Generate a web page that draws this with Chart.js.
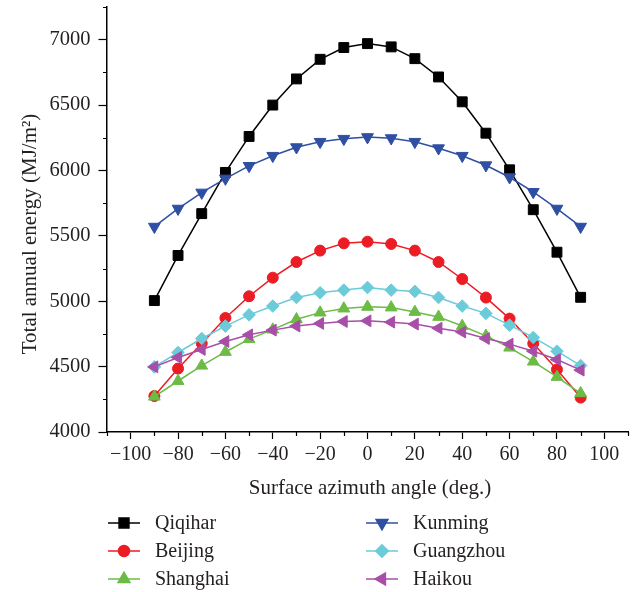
<!DOCTYPE html>
<html lang="en">
<head>
  <meta charset="UTF-8">
  <title>Total annual energy vs surface azimuth angle</title>
  <script src="https://cdn.jsdelivr.net/npm/chart.js"></script>
  <style>
    body {
      margin: 0;
      background: #ffffff;
    }
    #wrap {
      width: 637px;
      height: 592px;
    }
  </style>
</head>
<body>
  <div id="wrap"><canvas id="energyChart" width="637" height="592"></canvas></div>

  <script>
    // azimuth angle (deg.) for every series
    const azimuth = [-90, -80, -70, -60, -50, -40, -30, -20, -10, 0, 10, 20, 30, 40, 50, 60, 70, 80, 90];

    // total annual energy, MJ/m2
    const qiqihar   = [5005, 5350, 5670, 5985, 6260, 6500, 6700, 6850, 6940, 6970, 6945, 6855, 6715, 6525, 6285, 6005, 5700, 5375, 5030];
    const beijing   = [4275, 4485, 4677, 4872, 5038, 5180, 5300, 5387, 5443, 5455, 5438, 5387, 5300, 5170, 5028, 4867, 4677, 4478, 4263];
    const shanghai  = [4270, 4390, 4507, 4612, 4710, 4783, 4862, 4913, 4944, 4957, 4952, 4918, 4880, 4811, 4735, 4645, 4538, 4421, 4296];
    const kunming   = [5570, 5708, 5831, 5938, 6035, 6112, 6178, 6219, 6242, 6255, 6247, 6219, 6170, 6112, 6040, 5948, 5836, 5708, 5570];
    const guangzhou = [4498, 4608, 4715, 4810, 4896, 4963, 5029, 5065, 5085, 5105, 5085, 5075, 5029, 4963, 4907, 4817, 4723, 4618, 4508];
    const haikou    = [4498, 4570, 4631, 4692, 4743, 4779, 4810, 4830, 4845, 4850, 4840, 4825, 4794, 4764, 4715, 4672, 4618, 4554, 4473];

    const xTitle = "Surface azimuth angle (deg.)";
    const yTitle = "Total annual energy (MJ/m\u00B2)";

    const FONT = '"Liberation Serif", "Times New Roman", serif';
    const TEXT = "#231f20";

    const series = (label, data, color, style, radius, rotation, order) => ({
      label,
      data: azimuth.map((a, i) => ({ x: a, y: data[i] })),
      borderColor: color,
      backgroundColor: color,
      borderWidth: 1.5,
      pointStyle: style,
      pointRadius: radius,
      pointRotation: rotation,
      pointBorderWidth: 1,
      pointBorderColor: color,
      pointBackgroundColor: color,
      tension: 0,
      order
    });

    const datasets = [
      series("Qiqihar",   qiqihar,   "#000000", "rect",     7,   0,   5),
      series("Beijing",   beijing,   "#ec1c24", "circle",   5.5, 0,   3),
      series("Shanghai",  shanghai,  "#6cbb45", "triangle", 6.8, 0,   1),
      series("Kunming",   kunming,   "#2f4fa2", "triangle", 6.8, 180, 4),
      series("Guangzhou", guangzhou, "#6ccbd9", "rectRot",  6.3, 0,   2),
      series("Haikou",    haikou,    "#a84ea8", "triangle", 6.8, 270, 0)
    ];

    const minus = v => (v < 0 ? "\u2212" + Math.abs(v) : String(v));

    // short minor ticks, axis titles and the two-column legend
    const decorations = {
      id: "decorations",
      afterDraw(chart) {
        const { ctx, scales: { x, y } } = chart;
        ctx.save();
        ctx.strokeStyle = "#000";
        ctx.lineWidth = 1.2;
        ctx.beginPath();
        x.ticks.forEach(t => {
          if (t.value % 20 !== 0) {
            const px = Math.round(x.getPixelForValue(t.value)) + 0.5;
            ctx.moveTo(px, x.top);
            ctx.lineTo(px, x.top + 4);
          }
        });
        y.ticks.forEach(t => {
          if (t.value % 500 !== 0) {
            const py = Math.round(y.getPixelForValue(t.value)) + 0.5;
            ctx.moveTo(y.right - 4, py);
            ctx.lineTo(y.right, py);
          }
        });
        ctx.stroke();

        ctx.fillStyle = TEXT;
        ctx.font = "21px " + FONT;
        ctx.textAlign = "center";
        ctx.textBaseline = "alphabetic";
        ctx.fillText(xTitle, 370, 494);

        ctx.save();
        ctx.translate(36, 234);
        ctx.rotate(-Math.PI / 2);
        ctx.fillText(yTitle, 0, 0);
        ctx.restore();

        // legend
        const cols = [108, 366];
        const rows = [523, 551, 579];
        ctx.font = "20px " + FONT;
        ctx.textAlign = "left";
        ctx.textBaseline = "middle";
        chart.data.datasets.forEach((ds, i) => {
          const lx = cols[Math.floor(i / 3)];
          const ly = rows[i % 3];
          ctx.strokeStyle = ds.borderColor;
          ctx.lineWidth = 1.5;
          ctx.beginPath();
          ctx.moveTo(lx, ly);
          ctx.lineTo(lx + 32, ly);
          ctx.stroke();
          ctx.fillStyle = ds.backgroundColor;
          ctx.strokeStyle = ds.borderColor;
          Chart.helpers.drawPoint(ctx, {
            pointStyle: ds.pointStyle,
            rotation: ds.pointRotation,
            radius: ds.pointRadius,
            borderWidth: 1
          }, lx + 16, ly);
          ctx.fillStyle = TEXT;
          ctx.fillText(ds.label, lx + 47, ly + 1);
        });
        ctx.restore();
      }
    };

    new Chart(document.getElementById("energyChart"), {
      type: "line",
      data: { datasets },
      options: {
        responsive: false,
        animation: false,
        layout: { padding: { left: 0, right: 9, top: 7, bottom: 120 }, autoPadding: false },
        plugins: { legend: { display: false }, tooltip: { enabled: false } },
        scales: {
          x: {
            type: "linear",
            min: -110,
            max: 110,
            ticks: {
              stepSize: 10,
              autoSkip: false,
              maxRotation: 0,
              padding: 4,
              color: TEXT,
              font: { family: FONT, size: 20 },
              callback: v => (v % 20 === 0 ? minus(v) : "")
            },
            grid: {
              drawOnChartArea: false,
              tickLength: 7,
              tickWidth: 1.2,
              tickColor: c => (c.tick && c.tick.value % 20 !== 0 ? "rgba(0,0,0,0)" : "#000")
            },
            border: { color: "#000", width: 1.5 },
            afterFit: s => {
              s.height = 40;
              s.paddingLeft = 0;
              s.paddingRight = 0;
            }
          },
          y: {
            type: "linear",
            min: 4000,
            max: 7250,
            ticks: {
              stepSize: 250,
              autoSkip: false,
              padding: 8,
              color: TEXT,
              font: { family: FONT, size: 20.5 },
              callback: v => (v % 500 === 0 ? String(v) : "")
            },
            grid: {
              drawOnChartArea: false,
              tickLength: 8.5,
              tickWidth: 1.2,
              tickColor: c => (c.tick && c.tick.value % 500 !== 0 ? "rgba(0,0,0,0)" : "#000")
            },
            border: { color: "#000", width: 1.5 },
            afterFit: s => {
              s.width = 107;
              s.paddingTop = 0;
              s.paddingBottom = 0;
            }
          }
        }
      },
      plugins: [decorations]
    });
  </script>
</body>
</html>
